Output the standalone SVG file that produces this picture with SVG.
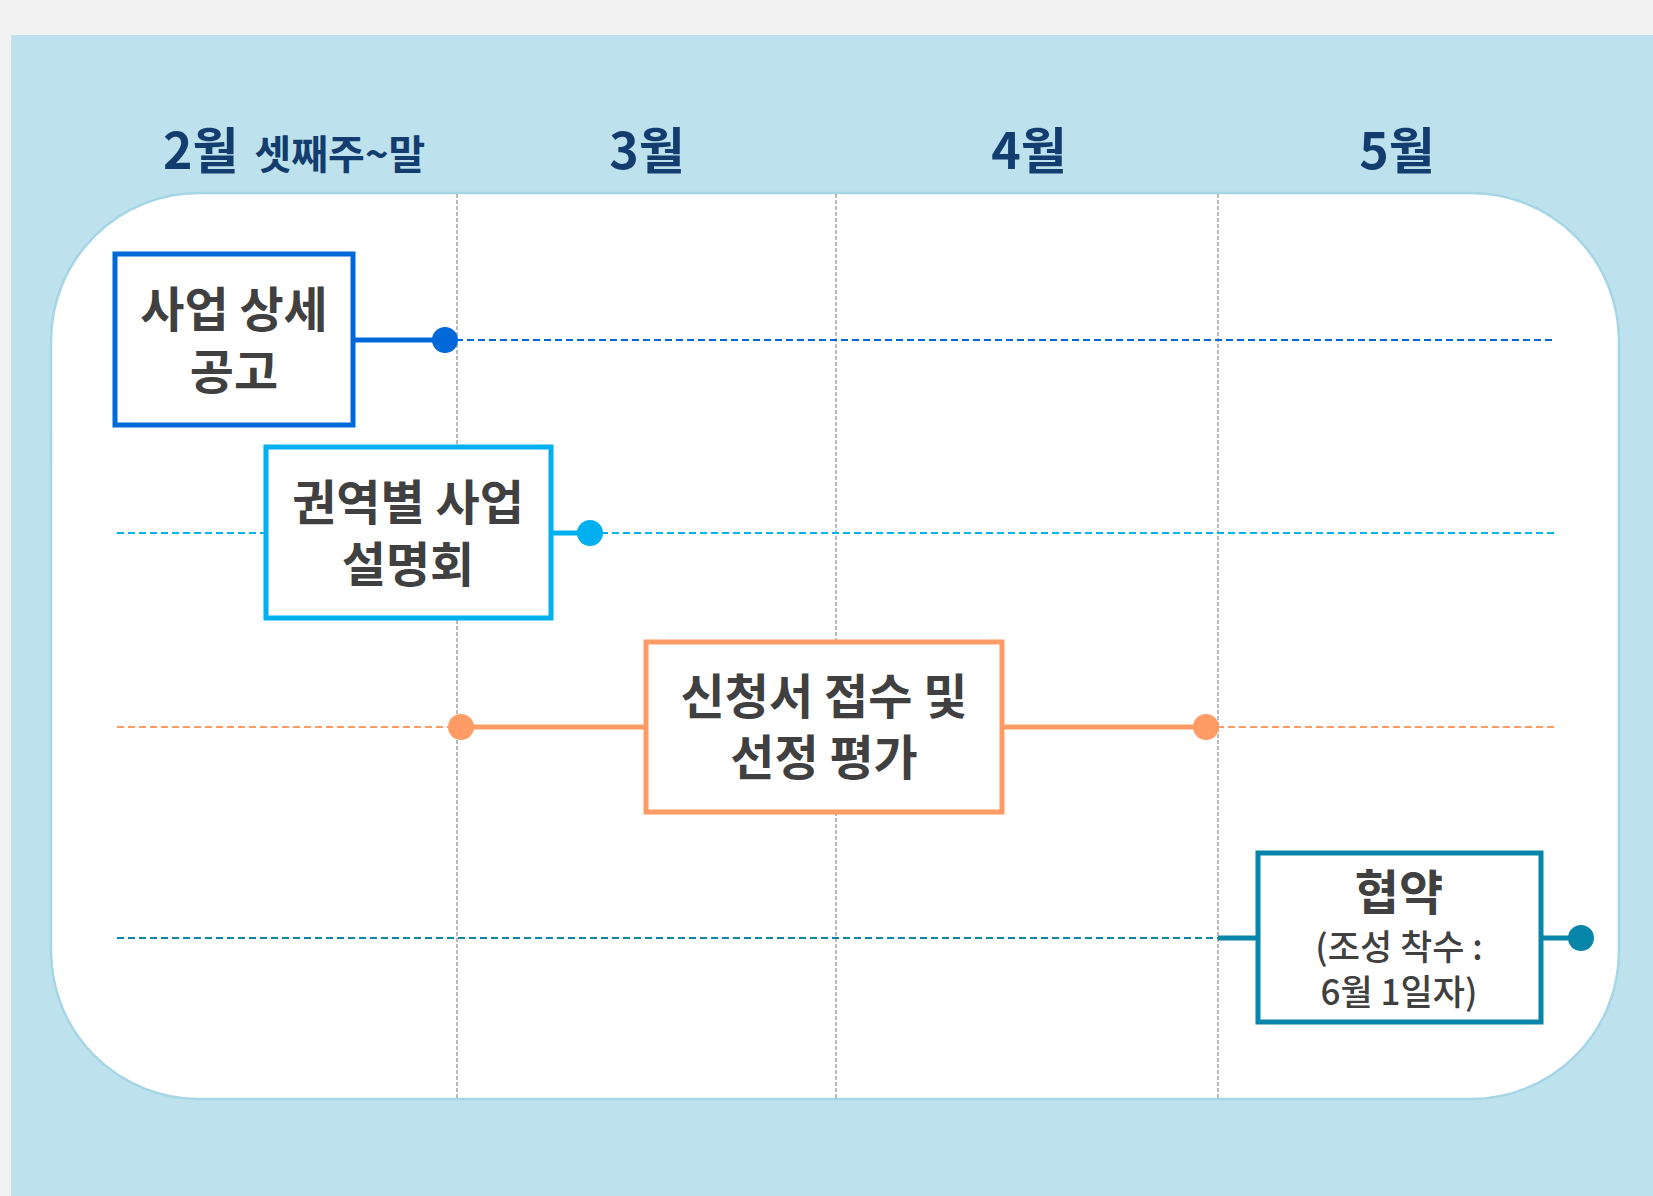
<svg xmlns="http://www.w3.org/2000/svg" width="1653" height="1196" viewBox="0 0 1653 1196">
<style>
.month{font-family:"Noto Sans CJK KR","Noto Sans",sans-serif;font-weight:700;fill:#123d6e;}
.lbl{font-family:"Noto Sans CJK KR","Noto Sans",sans-serif;font-weight:700;fill:#404040;text-anchor:middle;font-size:48px;}
.sub{font-weight:500;font-size:35px;}
.grid{stroke:#8c8c8c;stroke-width:1.2;stroke-dasharray:4 2;fill:none;}
.dash{stroke-width:2;stroke-dasharray:7 4;fill:none;}
.solid{stroke-width:5;fill:none;}
.box{fill:#ffffff;stroke-width:5;}
</style>
<rect x="0" y="0" width="1653" height="1196" fill="#f2f2f2"/>
<rect x="11" y="35" width="1642" height="1161" fill="#bee2ed"/>
<rect x="51" y="193" width="1568" height="906" rx="148" ry="148" fill="#ffffff" stroke="#a5d6e6" stroke-width="2.5"/>
<g id="months">
<text class="month" x="163" y="169" font-size="50">2월<tspan font-size="40" dx="16">셋째주~말</tspan></text>
<text class="month" x="647" y="169" font-size="50" text-anchor="middle">3월</text>
<text class="month" x="1029" y="169" font-size="50" text-anchor="middle">4월</text>
<text class="month" x="1397" y="169" font-size="50" text-anchor="middle">5월</text>
</g>
<g id="grid">
<line class="grid" x1="457" y1="194" x2="457" y2="1099"/>
<line class="grid" x1="836" y1="194" x2="836" y2="1099"/>
<line class="grid" x1="1218" y1="194" x2="1218" y2="1099"/>
</g>
<g id="connectors">
<line class="solid" stroke="#0068d9" x1="353" y1="340" x2="445" y2="340"/>
<line class="dash" stroke="#0068d9" x1="445" y1="340" x2="1555" y2="340"/>
<circle cx="445" cy="340" r="13" fill="#0068d9"/>
<line class="dash" stroke="#00b0ef" x1="117" y1="533" x2="264" y2="533"/>
<line class="solid" stroke="#00b0ef" x1="551" y1="533" x2="590" y2="533"/>
<line class="dash" stroke="#00b0ef" x1="590" y1="533" x2="1555" y2="533"/>
<circle cx="590" cy="533" r="13" fill="#00b0ef"/>
<line class="dash" stroke="#ff9c66" x1="117" y1="727" x2="461" y2="727"/>
<line class="solid" stroke="#ff9c66" x1="461" y1="727" x2="645" y2="727"/>
<line class="solid" stroke="#ff9c66" x1="1002" y1="727" x2="1206" y2="727"/>
<line class="dash" stroke="#ff9c66" x1="1206" y1="727" x2="1555" y2="727"/>
<circle cx="461" cy="727" r="13" fill="#ff9c66"/>
<circle cx="1206" cy="727" r="13" fill="#ff9c66"/>
<line class="dash" stroke="#0786aa" x1="117" y1="938" x2="1218" y2="938"/>
<line class="solid" stroke="#0786aa" x1="1218" y1="938" x2="1257" y2="938"/>
<line class="solid" stroke="#0786aa" x1="1541" y1="938" x2="1581" y2="938"/>
<circle cx="1581" cy="938" r="13" fill="#0786aa"/>
</g>
<g id="node1">
<rect class="box" stroke="#0068d9" x="115" y="254" width="238" height="171"/>
<text class="lbl" x="234" y="327">사업 상세<tspan x="234" dy="62">공고</tspan></text>
</g>
<g id="node2">
<rect class="box" stroke="#00b0ef" x="266" y="447" width="285" height="171"/>
<text class="lbl" x="408" y="520">권역별 사업<tspan x="408" dy="62">설명회</tspan></text>
</g>
<g id="node3">
<rect class="box" stroke="#ff9c66" x="646" y="642" width="356" height="170"/>
<text class="lbl" x="824" y="714">신청서 접수 및<tspan x="824" dy="61">선정 평가</tspan></text>
</g>
<g id="node4">
<rect class="box" stroke="#0786aa" x="1258" y="853" width="283" height="169"/>
<text class="lbl" x="1399" y="910" font-size="46">협약<tspan class="sub" x="1399" dy="50">(조성 착수 :</tspan><tspan class="sub" x="1399" dy="45">6월 1일자)</tspan></text>
</g>
</svg>
